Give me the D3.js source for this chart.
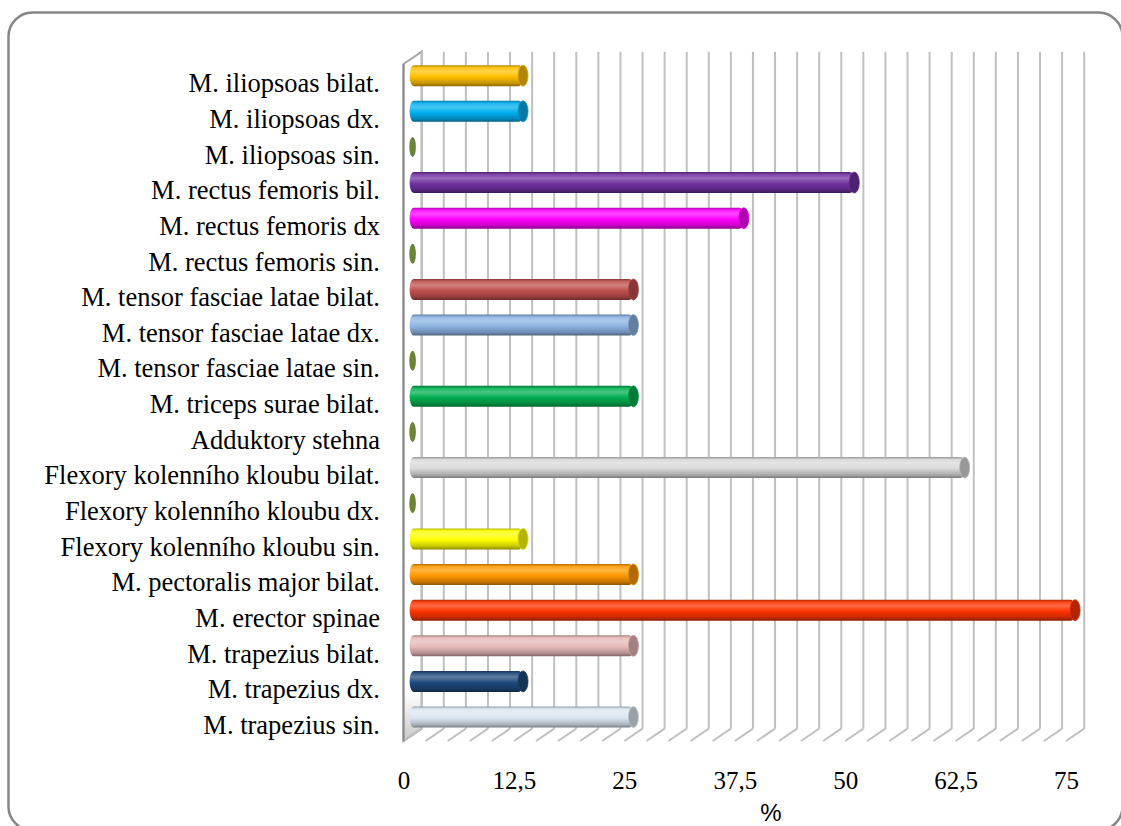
<!DOCTYPE html>
<html>
<head>
<meta charset="utf-8">
<script src="https://cdn.jsdelivr.net/npm/d3@7/dist/d3.min.js"></script>
<style>
  html, body { margin: 0; padding: 0; background: #fff; }
  svg { display: block; }
</style>
</head>
<body>
<svg id="chart" width="1121" height="826"></svg>
<script>
// Categories listed top to bottom
const categories = [
  "M. iliopsoas bilat.",
  "M. iliopsoas dx.",
  "M. iliopsoas sin.",
  "M. rectus femoris bil.",
  "M. rectus femoris dx",
  "M. rectus femoris sin.",
  "M. tensor fasciae latae bilat.",
  "M. tensor fasciae latae dx.",
  "M. tensor fasciae latae sin.",
  "M. triceps surae bilat.",
  "Adduktory stehna",
  "Flexory kolenního kloubu bilat.",
  "Flexory kolenního kloubu dx.",
  "Flexory kolenního kloubu sin.",
  "M. pectoralis major bilat.",
  "M. erector spinae",
  "M. trapezius bilat.",
  "M. trapezius dx.",
  "M. trapezius sin."
];
// Share of subjects (%)
const values = [12.5, 12.5, 0, 50, 37.5, 0, 25, 25, 0, 25, 0, 62.5, 0, 12.5, 25, 75, 25, 12.5, 25];
const barColors = [
  "#FFC000", "#00B0F0", "#77933C", "#7030A0", "#FF00FF", "#77933C",
  "#C0504D", "#8DB4E2", "#77933C", "#00B050", "#77933C", "#D9D9D9",
  "#77933C", "#FFFF00", "#FF9900", "#FF3300", "#E6B9B8", "#1F497D", "#DCE6F2"
];
const tickValues = [0, 12.5, 25, 37.5, 50, 62.5, 75];
const gridStep = 2.5;
const axisTitle = "%";

const svg = d3.select("#chart");
const defs = svg.append("defs");

// Outer frame
svg.append("rect")
  .attr("x", 8.5).attr("y", 12.5)
  .attr("width", 1114).attr("height", 818)
  .attr("rx", 24).attr("ry", 24)
  .attr("fill", "#fff").attr("stroke", "#868686").attr("stroke-width", 2.5);

// 3D geometry: front plane, depth offset
const depthX = 18.2, depthY = -12.3;
const plotTop = 64, plotBottom = 741;
const x = d3.scaleLinear().domain([0, 75]).range([403.5, 1066]);
const y = d3.scaleBand().domain(categories).range([plotTop, plotBottom]).paddingInner(0).paddingOuter(0);

// Left side wall
const wallGrad = defs.append("linearGradient").attr("id", "wallGrad")
  .attr("x1", 0).attr("y1", 0).attr("x2", 0).attr("y2", 1);
wallGrad.append("stop").attr("offset", "0%").attr("stop-color", "#ffffff");
wallGrad.append("stop").attr("offset", "93%").attr("stop-color", "#ffffff");
wallGrad.append("stop").attr("offset", "100%").attr("stop-color", "#c8c8c8");
svg.append("polygon")
  .attr("points", [
    [x(0), plotTop], [x(0) + depthX, plotTop + depthY],
    [x(0) + depthX, plotBottom + depthY], [x(0), plotBottom]
  ].map(p => p.join(",")).join(" "))
  .attr("fill", "url(#wallGrad)").attr("stroke", "#a6a6a6").attr("stroke-width", 2);

// Back wall gridlines and floor hatches
const gridVals = d3.range(0, 75 + 1e-9, gridStep);
const grid = svg.append("g");
grid.selectAll("line.v").data(gridVals).join("line")
  .attr("class", "v")
  .attr("x1", d => x(d) + depthX).attr("x2", d => x(d) + depthX)
  .attr("y1", plotTop + depthY).attr("y2", plotBottom + depthY)
  .attr("stroke", "#c0c0c0").attr("stroke-width", 2);
grid.selectAll("line.f").data(gridVals).join("line")
  .attr("class", "f")
  .attr("x1", d => x(d) + depthX).attr("x2", d => x(d))
  .attr("y1", plotBottom + depthY).attr("y2", plotBottom)
  .attr("stroke", "#c0c0c0").attr("stroke-width", 2);
// front edge of side wall
svg.append("line")
  .attr("x1", x(0)).attr("x2", x(0)).attr("y1", plotTop).attr("y2", plotBottom)
  .attr("stroke", "#8c8c8c").attr("stroke-width", 2);

// Cylinder shading: dark rim, highlight in the upper third, darker underside
function cylGrad(id, base) {
  const g = defs.append("linearGradient").attr("id", id)
    .attr("x1", 0).attr("y1", 0).attr("x2", 0).attr("y2", 1);
  const stops = [
    [0, d3.interpolateRgb(base, "#000")(0.3)],
    [0.12, d3.interpolateRgb(base, "#fff")(0.1)],
    [0.3, d3.interpolateRgb(base, "#fff")(0.28)],
    [0.55, base],
    [0.85, d3.interpolateRgb(base, "#000")(0.22)],
    [1, d3.interpolateRgb(base, "#000")(0.45)]
  ];
  stops.forEach(s => g.append("stop").attr("offset", s[0]).attr("stop-color", s[1]));
}

const barH = 21;
const midX = depthX / 2, midY = depthY / 2;
const bars = svg.append("g");
categories.forEach((cat, i) => {
  const v = values[i];
  const base = barColors[i];
  const cy = y(cat) + y.bandwidth() / 2 + midY;
  const x0 = x(0) + midX;
  const x1 = x(v) + midX;
  const id = "cyl" + i;
  cylGrad(id, base);
  const g = bars.append("g");
  if (v > 0) {
    // body with rounded left end
    g.append("rect")
      .attr("x", x0 - 3).attr("y", cy - barH / 2)
      .attr("width", x1 - x0 + 3).attr("height", barH)
      .attr("rx", 4).attr("ry", barH / 2)
      .attr("fill", `url(#${id})`);
    // end cap
    g.append("ellipse")
      .attr("cx", x1).attr("cy", cy)
      .attr("rx", 5).attr("ry", barH / 2)
      .attr("fill", d3.interpolateRgb(base, "#000")(0.3))
      .attr("stroke", d3.interpolateRgb(base, "#000")(0.15)).attr("stroke-width", 0.8);
  } else {
    g.append("ellipse")
      .attr("cx", x0).attr("cy", cy)
      .attr("rx", 3.3).attr("ry", barH / 2 - 0.5)
      .attr("fill", d3.interpolateRgb(base, "#000")(0.1));
  }
});

// Category labels
const yAxis = svg.append("g")
  .attr("transform", `translate(${380},0)`)
  .call(d3.axisLeft(y).tickSize(0).tickPadding(0));
yAxis.select(".domain").remove();
yAxis.selectAll("text")
  .attr("font-family", "'Liberation Serif', 'Times New Roman', serif")
  .attr("font-size", 26.5)
  .attr("fill", "#000")
  .attr("dy", "0.4em");

// Value axis labels
const xAxis = svg.append("g")
  .attr("transform", `translate(0,${789})`)
  .call(d3.axisBottom(x).tickValues(tickValues).tickSize(0).tickPadding(0)
    .tickFormat(d => String(d).replace(".", ",")));
xAxis.select(".domain").remove();
xAxis.selectAll("text")
  .attr("font-family", "'Liberation Serif', 'Times New Roman', serif")
  .attr("font-size", 25)
  .attr("fill", "#000")
  .attr("dy", 0)
  .attr("y", 0);

svg.append("text")
  .attr("x", 771).attr("y", 821)
  .attr("text-anchor", "middle")
  .attr("font-family", "'Liberation Sans', Arial, sans-serif")
  .attr("font-size", 24)
  .attr("fill", "#000")
  .text(axisTitle);
</script>
</body>
</html>
